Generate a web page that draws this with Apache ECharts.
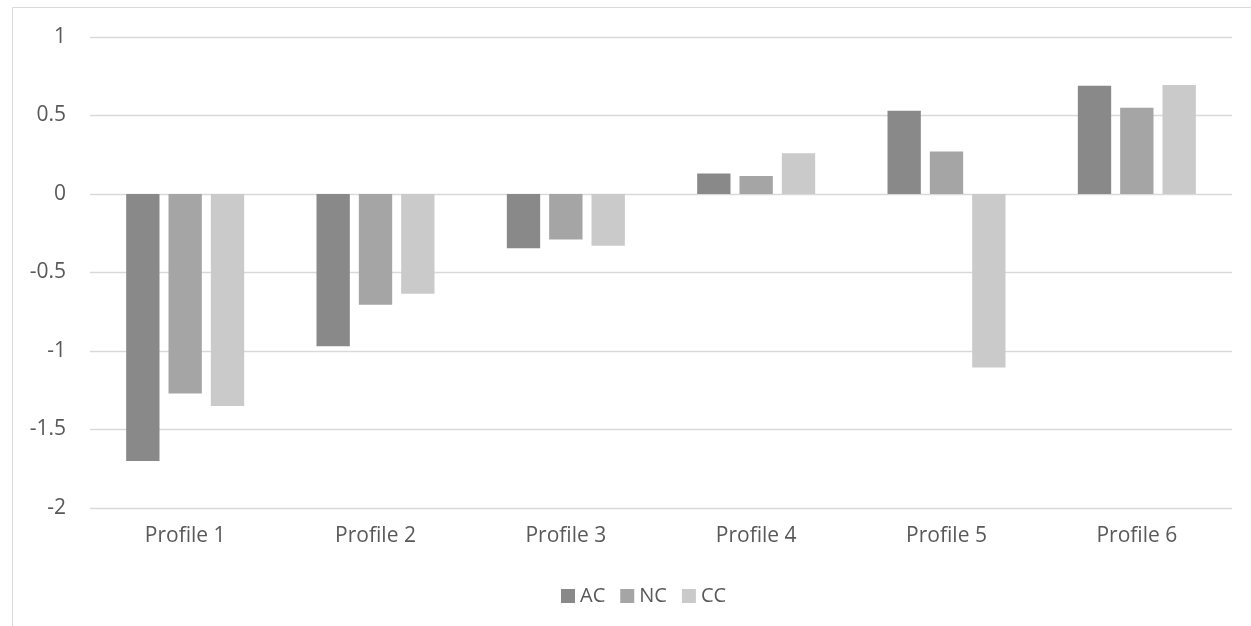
<!DOCTYPE html>
<html>
<head>
<meta charset="utf-8">
<script src="https://cdn.jsdelivr.net/npm/echarts@6/dist/echarts.min.js"></script>
<style>
  html, body { margin: 0; padding: 0; background: #fff; }
  #chart { width: 1251px; height: 626px; }
</style>
</head>
<body>
<div id="chart"></div>
<script>
// 数据
const categories = ['Profile 1', 'Profile 2', 'Profile 3', 'Profile 4', 'Profile 5', 'Profile 6'];
const acValues = [-1.70, -0.97, -0.345, 0.13, 0.53, 0.69];
const ncValues = [-1.27, -0.705, -0.29, 0.115, 0.27, 0.55];
const ccValues = [-1.35, -0.635, -0.33, 0.26, -1.105, 0.695];

const colors = {
    ac: '#898989',
    nc: '#a5a5a5',
    cc: '#cacaca'
};

const chart = echarts.init(document.getElementById('chart'));
const font = '"Open Sans", "Noto Sans", sans-serif';

const option = {
    animation: false,
    textStyle: { fontFamily: font },
    // 外框
    graphic: [{
        type: 'polyline',
        silent: true,
        shape: { points: [[12.5, 640], [12.5, 7.5], [1260, 7.5]] },
        style: { stroke: '#d9d9d9', lineWidth: 1, fill: null }
    }],
    legend: {
        top: 581,
        left: 556,
        icon: 'rect',
        itemWidth: 14,
        itemHeight: 14,
        itemGap: 15,
        textStyle: { color: '#595959', fontSize: 20, fontFamily: font },
        data: ['AC', 'NC', 'CC']
    },
    grid: {
        left: 90,
        right: 19,
        top: 37,
        bottom: 118
    },
    xAxis: {
        type: 'category',
        data: categories,
        axisLine: { show: false, onZero: false },
        axisTick: { show: false },
        axisLabel: { color: '#595959', fontSize: 21, margin: 18 }
    },
    yAxis: {
        type: 'value',
        min: -2,
        max: 1,
        interval: 0.5,
        axisLine: { show: false },
        axisTick: { show: false },
        axisLabel: { color: '#595959', fontSize: 21, margin: 24 },
        splitLine: { show: true, lineStyle: { color: '#d9d9d9', width: 1.3 } }
    },
    series: [
        {
            name: 'AC',
            type: 'bar',
            barGap: '27%',
            barCategoryGap: '38%',
            itemStyle: { color: colors.ac },
            data: acValues
        },
        {
            name: 'NC',
            type: 'bar',
            barGap: '27%',
            barCategoryGap: '38%',
            itemStyle: { color: colors.nc },
            data: ncValues
        },
        {
            name: 'CC',
            type: 'bar',
            barGap: '27%',
            barCategoryGap: '38%',
            itemStyle: { color: colors.cc },
            data: ccValues
        }
    ]
};

chart.setOption(option);
</script>
</body>
</html>
